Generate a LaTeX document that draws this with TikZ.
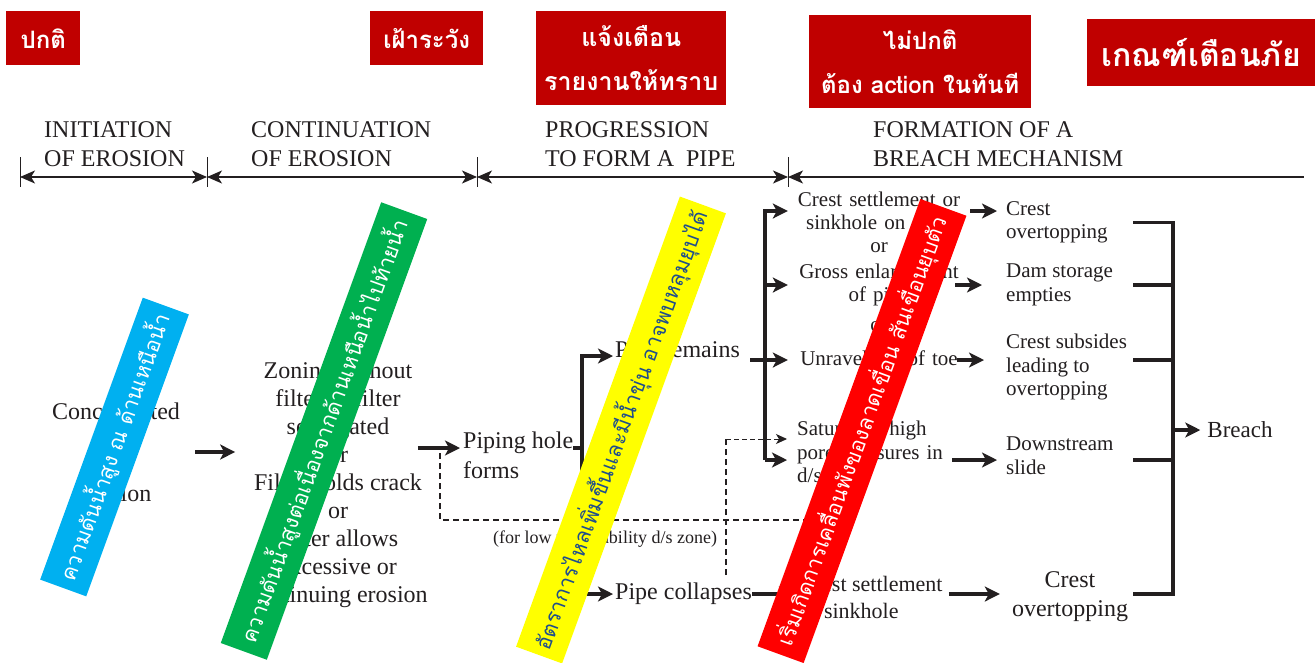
\documentclass[tikz,border=0pt]{standalone}
\usepackage{fontspec}
\setmainfont{Liberation Serif}
\newfontfamily\thaifont[Script=Thai]{Loma}
\usetikzlibrary{arrows.meta,positioning}
\definecolor{boxred}{RGB}{192,0,0}
\definecolor{inkgray}{RGB}{35,31,32}
\definecolor{bannerblue}{RGB}{0,176,240}
\definecolor{bannergreen}{RGB}{0,176,80}
\definecolor{banneryellow}{RGB}{255,255,0}
\definecolor{bannerred}{RGB}{255,0,0}
\definecolor{yellowink}{RGB}{31,78,140}
\tikzset{
  lvl/.style={fill=boxred, text=white, inner sep=0pt, align=center, anchor=north west,
    font=\thaifont\bfseries\fontsize{24}{44}\selectfont},
  phasehead/.style={anchor=north west, inner sep=0pt, align=left, text=inkgray,
    font=\fontsize{24}{29}\selectfont},
  phasetick/.style={draw=inkgray, line width=0.8pt},
  phasearr/.style={draw=inkgray, line width=1.2pt,
    arrows={Stealth[length=15pt,width=13pt,inset=4pt]-Stealth[length=15pt,width=13pt,inset=4pt]}},
  txt/.style={inner sep=0pt, text=inkgray, font=\fontsize{24}{28}\selectfont},
  mid/.style={inner sep=0pt, text=inkgray, font=\fontsize{21}{23.5}\selectfont},
  bigline/.style={draw=inkgray, line width=3.2pt},
  bigarr/.style={draw=inkgray, line width=3.2pt, -{Stealth[length=15pt,width=15pt,inset=4pt]}},
  dashline/.style={draw=inkgray, line width=1.6pt, dash pattern=on 6pt off 4pt},
  thindash/.style={draw=inkgray, line width=0.9pt, dash pattern=on 5pt off 3pt,
    -{Stealth[length=11pt,width=10pt,inset=3pt]}},
  banner/.style={inner sep=0pt, minimum height=49, rotate=70,
    font=\thaifont\fontsize{21.5}{21.5}\selectfont}
}
\begin{document}
\begin{tikzpicture}[x=1pt,y=-1pt]
\useasboundingbox (0,0) rectangle (1316,662);
\clip (0,0) rectangle (1316,662);
\fill[white] (0,0) rectangle (1316,662);

\node[lvl, minimum width=74, minimum height=54] (normal) at (6,11) {ปกติ};
\node[lvl, minimum width=113, minimum height=54] (watch) at (370,11) {เฝ้าระวัง};
\node[lvl, minimum width=190, minimum height=94, font=\thaifont\bfseries\fontsize{25}{44}\selectfont] (notify) at (536,11) {แจ้งเตือน\\รายงานให้ทราบ};
\node[lvl, minimum width=222, minimum height=93] (abnormal) at (809,15) {ไม่ปกติ\\ต้อง action ในทันที};
\node[lvl, minimum width=228, minimum height=67,
  font=\thaifont\bfseries\fontsize{32}{32}\selectfont] (alarm) at (1087,19) {เกณฑ์เตือนภัย};

\node[phasehead] (ph1) at (44,121) {INITIATION\\OF EROSION};
\node[phasehead] (ph2) at (251,121) {CONTINUATION\\OF EROSION};
\node[phasehead] (ph3) at (545,121) {PROGRESSION\\TO FORM A\ \ PIPE};
\node[phasehead] (ph4) at (873,121) {FORMATION OF A\\BREACH MECHANISM};

\coordinate (t0) at (20,177);
\coordinate (t1) at (207,177);
\coordinate (t2) at (477,177);
\coordinate (t3) at (788,177);
\coordinate (tend) at (1304,177);
\foreach \t in {t0,t1,t2,t3}
  \draw[phasetick] ([yshift=20pt]\t) -- ([yshift=-10pt]\t);
\draw[phasearr] (t0) -- (t1);
\draw[phasearr] (t1) -- (t2);
\draw[phasearr] (t2) -- (t3);
\draw[phasearr, arrows={Stealth[length=15pt,width=13pt,inset=4pt]-}] (t3) -- (tend);

\node[txt, align=center, font=\fontsize{24}{41}\selectfont] (conc) at (116,452) {Concentrated\\leak\\erosion};
\node[txt, align=center] (zone) at (338,485) {Zoning without\\filter or filter\\segregated\\or\\Filter holds crack\\or\\Filter allows\\excessive or\\continuing erosion};
\node[txt, align=left, anchor=west, font=\fontsize{24}{30}\selectfont] (hole) at (463,455) {Piping hole\\forms};
\node[txt, anchor=west] (remains) at (615,352) {Pipe remains};
\node[txt, anchor=west] (collapse) at (615,594) {Pipe collapses};
\node[txt, font=\fontsize{18}{18}\selectfont] (lowperm) at (605,539) {(for low permeability d/s zone)};

\node[mid, text width=182, align=center] (crest) at (879,211) {Crest settlement or\\sinkhole on crest};
\node[mid] (or1) at (879,248) {or};
\node[mid, text width=182, align=center] (gross) at (879,285) {Gross enlargement\\of pipe};
\node[mid] (or2) at (879,327) {or};
\node[mid, text width=182, align=center] (unravel) at (879,360) {Unravelling of toe};
\node[mid, text width=173, align=left, anchor=west] (sat) at (797,452) {Saturation/high\\pore pressures in\\d/s zone};
\coordinate (satin) at ([xshift=-10pt,yshift=-8pt]sat.west);
\node[mid, align=left, anchor=west, font=\fontsize{22}{27}\selectfont] (settle) at (800,597) {Crest settlement\\or sinkhole};

\node[mid, align=left, anchor=north west] (over1) at (1006,201) {Crest\\overtopping};
\node[mid, align=left, anchor=north west] (empties) at (1006,264) {Dam storage\\empties};
\node[mid, align=left, anchor=north west] (subsides) at (1006,334) {Crest subsides\\leading to\\overtopping};
\node[mid, align=left, anchor=north west] (downstream) at (1006,437) {Downstream\\slide};
\node[txt, align=center, font=\fontsize{24}{29}\selectfont] (crest2) at (1070,597) {Crest\\overtopping};
\node[txt, font=\fontsize{23}{23}\selectfont] (breach) at (1240,430) {Breach};

\draw[bigarr, shorten <=15pt, shorten >=13pt] (conc.east) -- (conc.east -| zone.west);
\coordinate (holein) at ([yshift=7pt]hole.west);
\draw[bigarr, shorten >=3pt] ([xshift=-10pt]zone.east |- holein) -- (holein);
\coordinate (b1) at (582,448);
\draw[bigline] ([yshift=7pt]hole.east) -- (b1);
\draw[bigarr, shorten >=2pt] (b1) |- ([yshift=-4pt]remains.west);
\draw[bigarr, shorten >=2pt] (b1) |- (collapse.west);
\draw[bigarr] ([xshift=10pt]remains.east |- unravel) -- (unravel.west);

\coordinate (b2) at (765,211);
\draw[bigarr] (b2 |- satin) -- (b2 |- crest) -- (crest.west);
\draw[bigarr] (b2 |- gross) -- (gross.west);
\draw[bigarr] (b2 |- satin) -- (satin);

\draw[bigarr, shorten >=9pt] (crest.east) -- (crest.east -| over1.west);
\draw[bigarr, shorten >=9pt] ([xshift=-15pt]gross.east) -- ([xshift=-15pt]gross.east -| empties.west);
\draw[bigarr, shorten >=9pt] ([xshift=-13pt]unravel.east) -- ([xshift=-13pt]unravel.east -| subsides.west);
\draw[bigarr, shorten >=9pt] ([xshift=-18pt]sat.east |- satin) -- (satin -| downstream.west);
\draw[bigarr, shorten >=6pt] (collapse.east) -- (collapse.east -| settle.west);
\draw[bigarr, shorten <=6pt, shorten >=12pt] (settle.east |- collapse) -- (collapse -| crest2.west);

\coordinate (s3) at (1133,0);
\coordinate (b3) at (1173,0);
\draw[bigline] (s3 |- over1) -- (b3 |- over1) -- (b3 |- collapse) -- (s3 |- collapse);
\foreach \r in {empties,unravel,satin}
  \draw[bigline] (s3 |- \r) -- (b3 |- \r);
\draw[bigarr, shorten >=7pt] (b3 |- breach) -- (breach.west);

\coordinate (dA) at (440,453);
\coordinate (dB) at (440,520);
\coordinate (dC) at (835,520);
\draw[dashline] (dA) -- (dB) -- (dC);
\coordinate (dD) at (726,575);
\coordinate (dE) at (726,439);
\draw[dashline] (dD) -- (dE);
\draw[thindash] (dE) -- (dE -| satin);

\node[banner, fill=bannerblue, text=white, minimum width=300] (bluebar) at (114.5,447) {ความดันน้ำสูง ณ ด้านเหนือน้ำ};
\node[banner, fill=bannergreen, text=white, minimum width=469] (greenbar) at (324,431) {ความดันน้ำสูงต่อเนื่องจากด้านเหนือน้ำไปท้ายน้ำ};
\node[banner, fill=banneryellow, text=yellowink, minimum width=479] (yellowbar) at (621,430) {อัตราการไหลเพิ่มขึ้นและมีน้ำขุ่น อาจพบหลุมยุบได้};
\node[banner, fill=bannerred, text=white, minimum width=476] (redbar) at (862,431) {เริ่มเกิดการเคลื่อนพังของลาดเขื่อน สันเขื่อนยุบตัว};
\end{tikzpicture}
\end{document}
